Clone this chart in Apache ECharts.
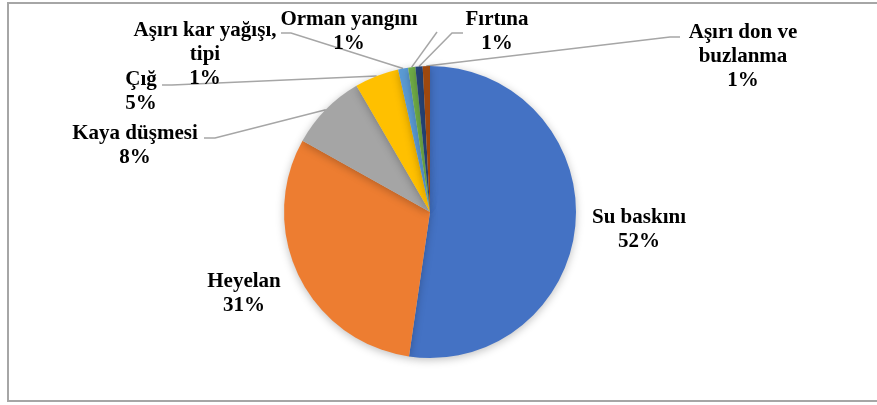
<!DOCTYPE html>
<html>
<head>
<meta charset="utf-8">
<style>
  body, html { margin: 0; padding: 0; width: 100%; height: 100%; overflow: hidden; background: #fff; }
  #chart { width: 877px; height: 405px; }
</style>
<script src="https://cdn.jsdelivr.net/npm/echarts@6/dist/echarts.min.js"></script>
</head>
<body>
<div id="chart"></div>
<script>
  // data (percent of events)
  const categories = ["Su baskını", "Heyelan", "Kaya düşmesi", "Çığ", "Aşırı kar yağışı, tipi", "Orman yangını", "Fırtına", "Aşırı don ve buzlanma"];
  const values = [52.3, 30.8, 8.5, 4.9, 1.1, 0.8, 0.8, 0.8];
  const labelNames = ["Su baskını", "Heyelan", "Kaya düşmesi", "Çığ", "Aşırı kar yağışı,\ntipi", "Orman yangını", "Fırtına", "Aşırı don ve\nbuzlanma"];
  const colors = ["#4472C4", "#ED7D31", "#A5A5A5", "#FFC000", "#5B9BD5", "#70AD47", "#264478", "#9E480E"];

  // where each label block sits (center) and where its leader line starts
  const labelPos = [
    { x: 639, y: 230, line: null },
    { x: 244, y: 294, line: null },
    { x: 135, y: 146, line: [[204, 138], [215, 138]] },
    { x: 141, y: 92, line: [[162, 85], [172, 85]] },
    { x: 205, y: 55, line: [[281, 33], [291, 33]] },
    { x: 349, y: 32, line: [[437, 32], [437, 32]] },
    { x: 497, y: 32, line: [[463, 33], [452, 33]] },
    { x: 743, y: 57, line: [[680, 37], [670, 37]] }
  ];

  const chart = echarts.init(document.getElementById("chart"));

  const option = {
    animation: false,
    backgroundColor: "#fff",
    graphic: [{
      type: "rect",
      shape: { x: 8, y: 3, width: 900, height: 398 },
      style: { fill: "none", stroke: "#a6a6a6", lineWidth: 2 },
      silent: true
    }],
    series: [{
      type: "pie",
      center: [430, 212],
      radius: 146,
      startAngle: 90,
      clockwise: true,
      percentPrecision: 0,
      emphasis: { disabled: true },
      itemStyle: {
        borderWidth: 0,
        shadowBlur: 8,
        shadowColor: "rgba(0,0,0,0.25)",
        shadowOffsetY: 2
      },
      data: categories.map((c, i) => ({
        name: c,
        value: values[i],
        itemStyle: { color: colors[i] },
        label: { formatter: labelNames[i] + "\n{d}%" },
        labelLine: { show: labelPos[i].line !== null }
      })),
      label: {
        show: true,
        position: "outside",
        fontFamily: "Liberation Serif",
        fontWeight: "bold",
        fontSize: 21,
        lineHeight: 24,
        color: "#000",
        align: "center"
      },
      labelLine: {
        show: true,
        lineStyle: { color: "#a6a6a6", width: 1.5 }
      },
      labelLayout: function (params) {
        const p = labelPos[params.dataIndex];
        const res = { x: p.x, y: p.y, align: "center", verticalAlign: "middle" };
        if (p.line && params.labelLinePoints) {
          const edge = params.labelLinePoints[0];
          res.labelLinePoints = [p.line[0], p.line[1], edge];
        }
        return res;
      }
    }]
  };

  chart.setOption(option);
</script>
</body>
</html>
